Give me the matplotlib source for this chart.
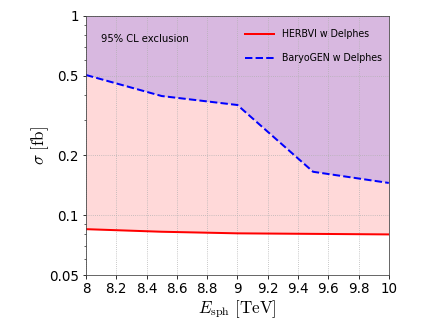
import numpy as np
import matplotlib
matplotlib.use('Agg')
import matplotlib.pyplot as plt

plt.rcParams['mathtext.fontset'] = 'cm'

# energies (TeV) and 95% CL limits (fb)
e_sph = [8.0, 8.5, 9.0, 9.5, 10.0]
herbvi = [0.085, 0.0825, 0.081, 0.0805, 0.080]
baryogen = [0.505, 0.396, 0.357, 0.165, 0.145]

x_ticks = [8, 8.2, 8.4, 8.6, 8.8, 9, 9.2, 9.4, 9.6, 9.8, 10]
x_labels = ['8', '8.2', '8.4', '8.6', '8.8', '9', '9.2', '9.4', '9.6', '9.8', '10']
y_ticks = [0.05, 0.1, 0.2, 0.5, 1]
y_labels = ['0.05', '0.1', '0.2', '0.5', '1']

fig = plt.figure(figsize=(6, 4.5), dpi=72)
ax = fig.add_axes([0.199, 0.151, 0.701, 0.80])

ax.fill_between(e_sph, baryogen, 1, color='#d8b8e0', lw=0)
ax.fill_between(e_sph, herbvi, baryogen, color='#ffd9d9', lw=0)

ax.plot(e_sph, herbvi, color='red', lw=2, label='HERBVI w Delphes')
ax.plot(e_sph, baryogen, color='blue', lw=2, ls='--', label='BaryoGEN w Delphes')

ax.set_yscale('log')
ax.set_xlim(8, 10)
ax.set_ylim(0.05, 1)
ax.set_xticks(x_ticks)
ax.set_xticklabels(x_labels)
ax.set_yticks(y_ticks)
ax.set_yticklabels(y_labels)
ax.tick_params(labelsize=13.5)
ax.grid(True, which='major', ls=':', color='#b0b0b0', lw=0.8)
for s in ax.spines.values():
    s.set_color('#444444')

ax.set_xlabel(r'$E_{\rm sph}\ [\mathrm{TeV}]$', fontsize=17, labelpad=2)
ax.set_ylabel(r'$\sigma\ [\mathrm{fb}]$', fontsize=17, labelpad=-2)

ax.text(0.05, 0.90, '95% CL exclusion', transform=ax.transAxes, fontsize=10)
ax.legend(loc='upper right', bbox_to_anchor=(1.02, 1.0), frameon=False,
          fontsize=9.5, labelspacing=1.5, handlelength=3.0, borderaxespad=1.0)

fig.savefig('out.png', dpi=72)
